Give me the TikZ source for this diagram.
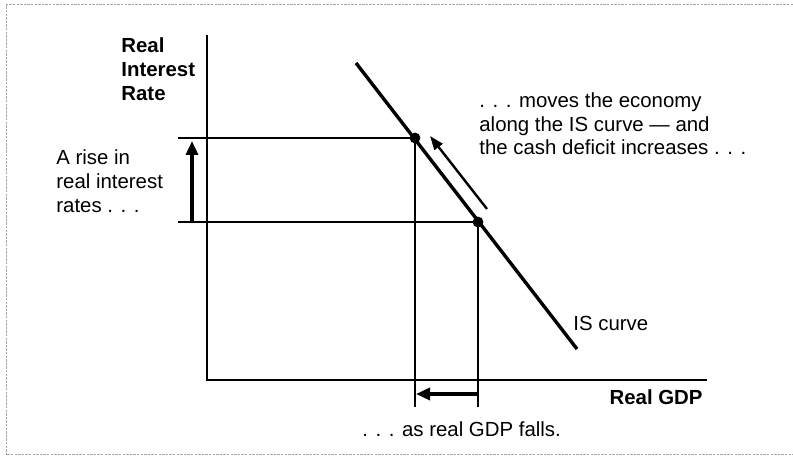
\documentclass[tikz,border=0pt]{standalone}
\usepackage{fontspec}
\setmainfont{Liberation Sans}
\usetikzlibrary{arrows.meta}

\tikzset{
  guide/.style={line width=0.65pt},
  bigarrow/.style={line width=2pt,-{Triangle[length=7pt,width=6pt]}},
  lbl/.style={inner sep=0pt,font=\fontsize{10.2}{12}\selectfont,align=left},
  dotnode/.style={circle,fill=black,inner sep=0pt,minimum size=5.4pt}
}

\begin{document}
\begin{tikzpicture}[x=0.5pt,y=-0.5pt]
\useasboundingbox (0,0) rectangle (793,464);
% frame (open on the right)
\draw[gray!70,line width=0.5pt,dash pattern=on 1.2pt off 0.6pt]
  (793,5) -- (6,5) -- (6,455) -- (793,455);

% axes
\coordinate (ytop) at (207,35);
\coordinate (O) at (207,380);
\coordinate (xend) at (707,380);
\draw[line width=1pt] (ytop) -- (O) -- (xend);

% IS curve and the two points on it
\coordinate (IStop) at (356,63);
\coordinate (ISbot) at (577,349);
\draw[line width=1.7pt] (IStop) -- (ISbot);
\node[dotnode] (hi) at (415,138) {};
\node[dotnode] (lo) at (478,222) {};

% guide lines
\coordinate (hiL) at (178,138);
\coordinate (loL) at (178,222);
\coordinate (hiD) at (415,407);
\coordinate (loD) at (478,407);
\draw[guide] (hiL) -- (hi.center) -- (hiD);
\draw[guide] (loL) -- (lo.center) -- (loD);

% arrows
\coordinate (upS) at (192,221);
\coordinate (upE) at (192,141);
\draw[bigarrow] (upS) -- (upE);
\coordinate (lfS) at (477,394);
\coordinate (lfE) at (416,394);
\draw[bigarrow] (lfS) -- (lfE);
\coordinate (alS) at (487,209);
\coordinate (alE) at (430,136);
\draw[line width=1.2pt,-{Triangle[length=7pt,width=5pt]}] (alS) -- (alE);

% labels (base = baseline of the last line)
\node[lbl,anchor=base west,font=\fontsize{10.2}{12}\selectfont\bfseries]
  (ylab) at (121,101) {Real\\Interest\\Rate};
\node[lbl,anchor=base east,font=\fontsize{10.2}{12}\bfseries\selectfont]
  (xlab) at (703,405) {Real GDP};
\node[lbl,anchor=base west] (rise) at (56,213)
  {A rise in\\real interest\\rates . . .};
\node[lbl,anchor=base west,font=\fontsize{10.2}{11.75}\selectfont] (moves) at (479,155)
  {. . . moves the economy\\along the IS curve --- and\\the cash deficit increases . . .};
\node[lbl,anchor=base west] (islab) at (573,331) {IS curve};
\node[lbl,anchor=base west] (falls) at (362,437) {. . . as real GDP falls.};
\end{tikzpicture}
\end{document}
